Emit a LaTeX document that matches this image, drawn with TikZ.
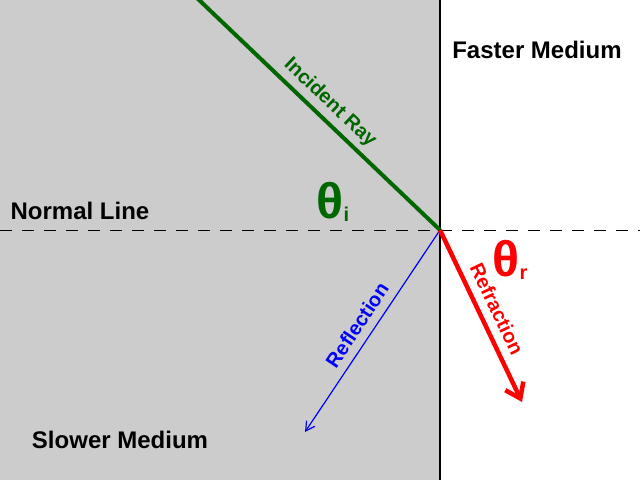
\documentclass[tikz,border=0pt]{standalone}
\usepackage{fontspec}
\setmainfont{Liberation Sans}
\usetikzlibrary{arrows.meta}
\definecolor{bg}{RGB}{204,204,204}
\definecolor{dgreen}{RGB}{0,102,0}
\begin{document}
\begin{tikzpicture}[x=1pt,y=-1pt,
  lbl/.style={font=\bfseries\fontsize{24}{26}\selectfont},
  rl/.style={font=\bfseries\fontsize{20}{22}\selectfont},
  th/.style={font=\bfseries\fontsize{50}{52}\selectfont}]
\useasboundingbox (0,0) rectangle (640,480);
\fill[bg] (0,0) rectangle (440,480);
\coordinate (top) at (440,0); \coordinate (bot) at (440,480);
\draw[line width=2pt] (top) -- (bot);
\coordinate (nl) at (0,230); \coordinate (nr) at (640,230);
\draw[dash pattern=on 12pt off 10pt, line width=0.8pt] (nl) -- (nr);
\coordinate (O) at (440,230);
\coordinate (S) at (197,-2);
\coordinate (R) at (305,432);
\coordinate (F) at (522,402);
\draw[dgreen, line width=4pt] (S) -- (O);
\draw[blue, line width=1.2pt, -{Straight Barb[length=9pt,width=10pt]}] (O) -- (R);
\draw[red, line width=4.5pt, -{Straight Barb[length=14pt,width=20pt]}] (O) -- (F);
\node[lbl] (fm) at (537,50) {Faster Medium};
\node[lbl] (nln) at (80,211) {Normal Line};
\node[lbl] (sm) at (120,440) {Slower Medium};
\node[th, text=dgreen] (ti) at (333,202) {θ\raisebox{-3pt}{\fontsize{20}{22}\selectfont i}};
\node[th, text=red] (tr) at (510,260) {θ\raisebox{-3pt}{\fontsize{20}{22}\selectfont r}};
\node[rl, text=dgreen, rotate=-43.4] (ir) at (330,103) {Incident Ray};
\node[rl, text=blue, rotate=56.3] (rf) at (357,325) {Reflection};
\node[rl, text=red, rotate=-64.5] (rr) at (497,309) {Refraction};
\end{tikzpicture}
\end{document}
